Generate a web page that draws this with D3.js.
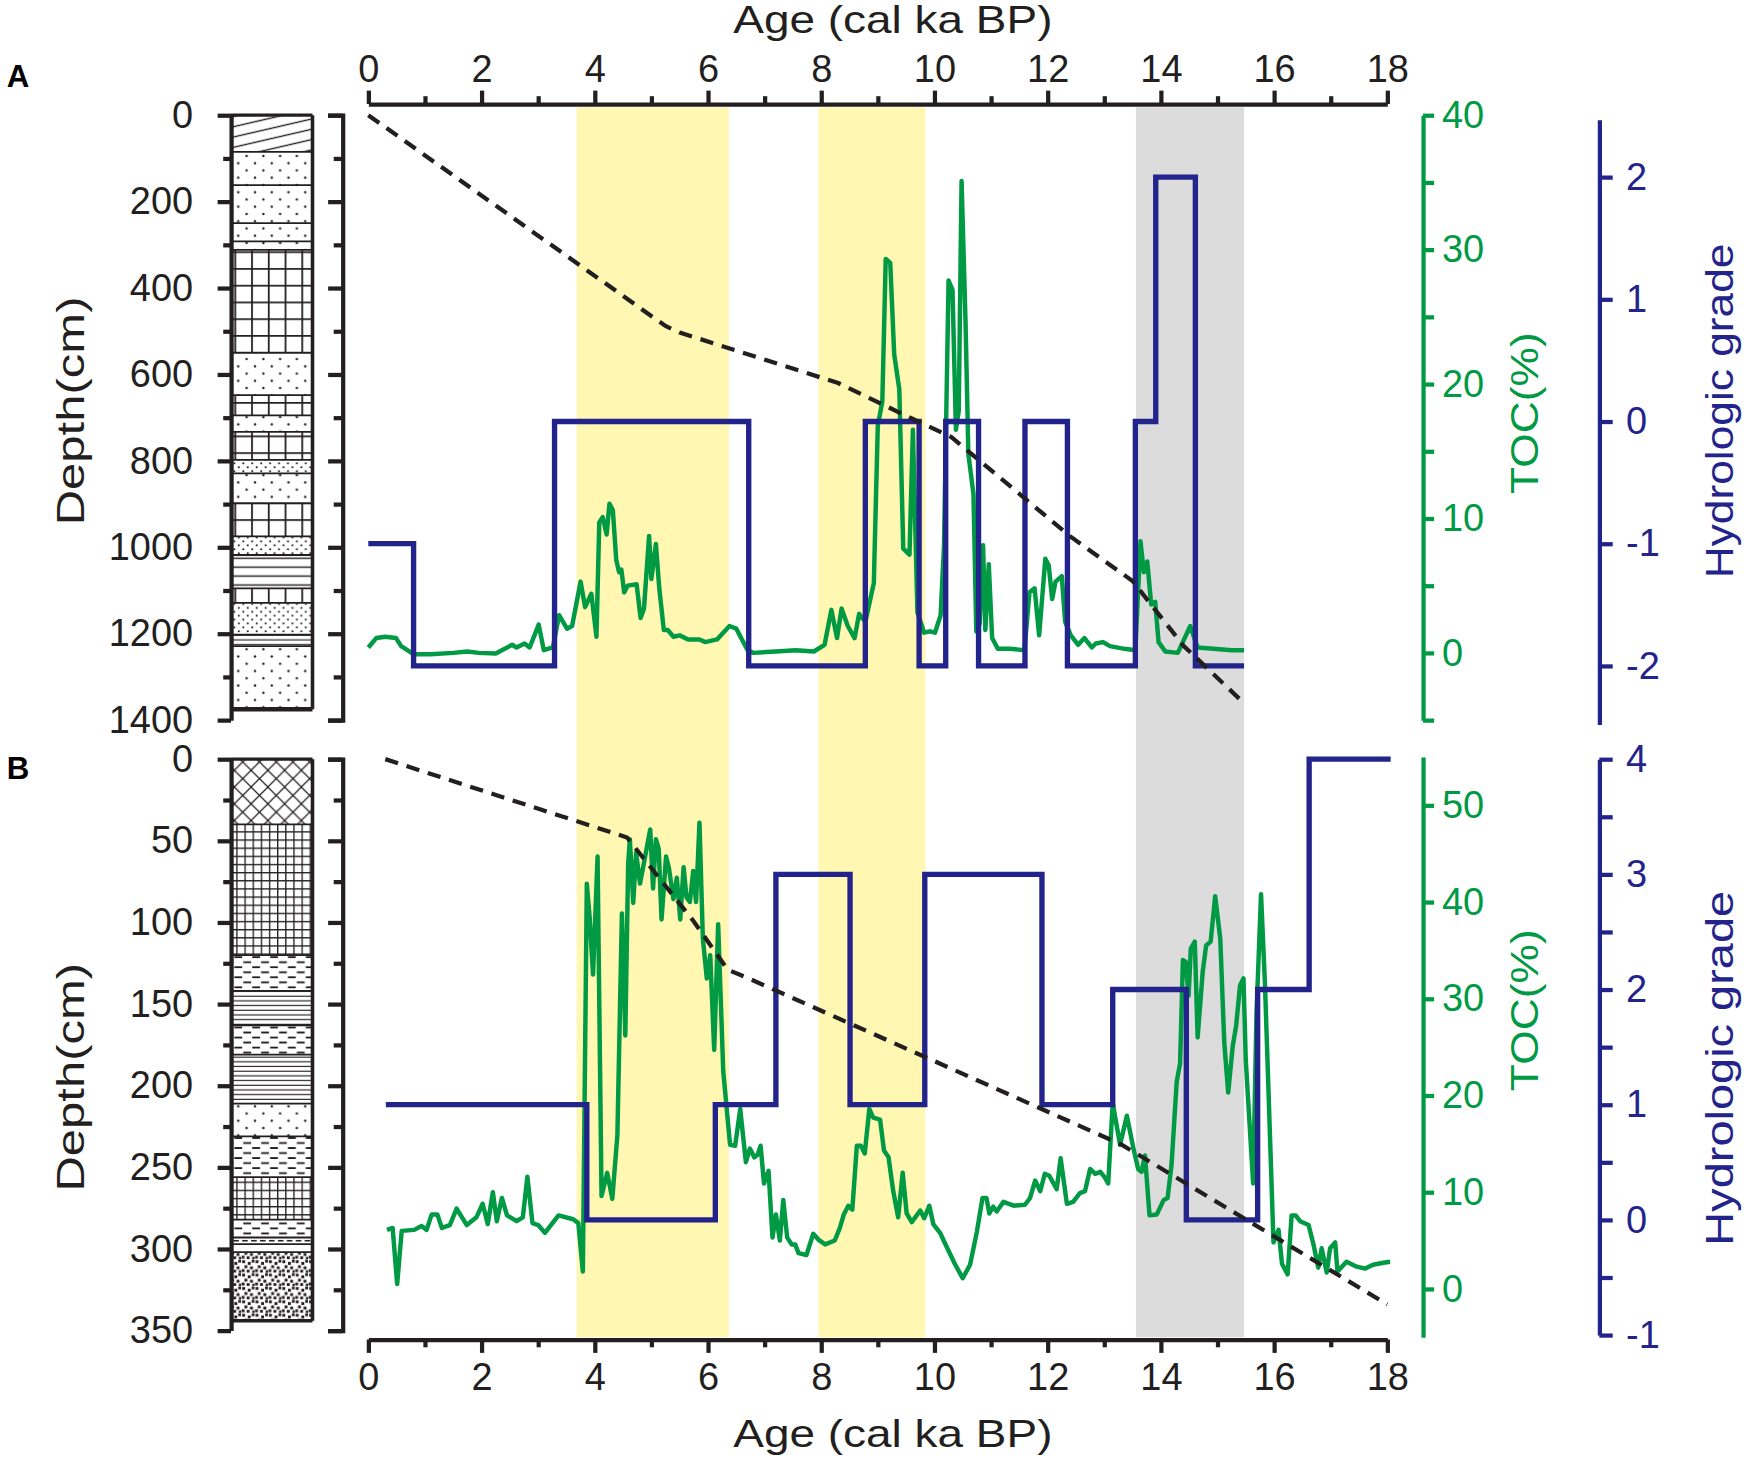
<!DOCTYPE html>
<html>
<head>
<meta charset="utf-8">
<script src="https://cdn.jsdelivr.net/npm/d3@7"></script>
<style>
  body { margin: 0; background: #fff; }
  svg { display: block; font-family: 'Liberation Sans', Arial, sans-serif; }
  .axis path, .axis line { stroke: #231f20; stroke-width: 3.8px; }
  .axis text { font-size: 34px; fill: #231f20; }
  .toc path, .toc line { stroke: #009a44; }
  .toc text { fill: #009a44; }
  .hyd path, .hyd line { stroke: #23238c; }
  .hyd text { fill: #23238c; }
  .title { font-size: 34px; fill: #231f20; }
  .tocline { fill: none; stroke: #009a44; stroke-width: 4px; stroke-linejoin: round; }
  .hydline { fill: none; stroke: #23238c; stroke-width: 4.8px; }
  .agedepth { fill: none; stroke: #231f20; stroke-width: 3.8px; stroke-dasharray: 12 8; }
</style>
</head>
<body>
<svg id="chart" width="1750" height="1458" viewBox="0 0 1568 1306"></svg>
<script>
// ---- data ----
const ageTicks = [0, 2, 4, 6, 8, 10, 12, 14, 16, 18];
const bandStart = [3.68, 7.95, 13.56];
const bandEnd = [6.37, 9.84, 15.47];
const bandKind = ['warm', 'warm', 'cold'];

// panel A
const tocAAge = [0,0.14,0.3,0.49,0.58,0.8,1.1,1.5,1.75,1.95,2.25,2.54,2.62,2.76,2.85,3.01,3.1,3.26,3.37,3.51,3.6,3.75,3.83,3.94,4.03,4.08,4.14,4.21,4.26,4.32,4.38,4.43,4.47,4.52,4.58,4.74,4.81,4.87,4.96,5.0,5.08,5.14,5.22,5.29,5.39,5.5,5.65,5.85,5.95,6.16,6.38,6.5,6.7,6.8,7.2,7.55,7.87,8.06,8.18,8.28,8.36,8.47,8.59,8.67,8.78,8.93,9.0,9.08,9.14,9.22,9.29,9.38,9.45,9.56,9.62,9.7,9.82,9.92,10.01,10.11,10.17,10.25,10.32,10.38,10.43,10.48,10.55,10.6,10.69,10.74,10.8,10.86,10.9,10.96,11.02,11.12,11.34,11.59,11.68,11.77,11.85,11.96,12.02,12.08,12.14,12.25,12.31,12.41,12.54,12.65,12.78,12.85,12.98,13.1,13.36,13.55,13.64,13.7,13.76,13.83,13.9,13.96,14.08,14.3,14.52,14.65,14.93,15.25,15.47];
const tocAVal = [0.4,1.1,1.2,1.1,0.5,-0.1,-0.1,0,0.1,0,-0.05,0.6,0.4,0.7,0.4,2.1,0.2,0.4,2.8,1.8,2.0,5.3,3.4,4.4,1.2,9.7,10.1,8.8,11.1,10.6,6.9,6.0,6.2,4.5,5.0,5.1,2.6,3.3,8.7,5.5,8.1,4.8,1.7,1.7,1.2,1.3,1.0,1.0,0.8,1.0,2.0,1.8,0.2,0,0.1,0.2,0.1,0.6,3.2,1.1,3.3,2.0,1.1,2.9,2.3,5.2,16.9,18.7,29.3,29.0,22.2,19.6,7.75,7.3,16.6,3.0,1.5,1.6,1.5,2.8,8,27.7,27,16.6,18,35.1,24.6,14.8,11.8,1.6,2.2,8.0,1.7,6.6,1.1,0.3,0.3,0.2,4.5,4.8,1.3,7.0,6.5,4.0,5.3,5.7,2.3,1.3,0.6,1.1,0.4,0.7,0.8,0.5,0.3,0.2,8.3,6.0,6.8,3.6,3.8,0.8,0.1,0,2.0,0.4,0.3,0.2,0.2];
const hydAAge = [0, 0.8, 3.29, 6.72, 8.78, 9.73, 10.2, 10.78, 11.6, 12.35, 13.55, 13.91, 14.61, 15.47];
const hydAVal = [-1, -2, 0, -2, 0, -2, 0, -2, 0, -2, 0, 2, -2, -2];
const adAAge = [0, 5.25, 5.5, 8.3, 9.6, 10.3, 12.4, 13.5, 14.4, 15.47];
const adADepth = [0, 488, 503, 620, 702, 745, 975, 1078, 1228, 1361];
const lithA = [[0,85,'slant'],[85,162,'dots'],[162,250,'dots'],[250,292,'dots'],[292,312,'dots'],[312,550,'grid'],[550,648,'dots'],[648,695,'grid'],[695,733,'dots'],[733,798,'grid'],[798,829,'denseDots'],[829,898,'dots'],[898,975,'grid'],[975,1018,'denseDots'],[1018,1095,'hlines'],[1095,1129,'grid'],[1129,1202,'denseDots'],[1202,1229,'hlinesDense'],[1229,1375,'dots']];

// panel B
const tocBAge = [0.33,0.43,0.51,0.59,0.81,0.94,1.03,1.12,1.22,1.3,1.44,1.56,1.74,1.91,2.02,2.11,2.2,2.27,2.36,2.45,2.62,2.73,2.81,2.9,3.0,3.12,3.36,3.62,3.71,3.79,3.86,3.91,3.97,4.05,4.12,4.22,4.31,4.4,4.48,4.54,4.59,4.62,4.68,4.73,4.8,4.89,4.98,5.03,5.08,5.13,5.18,5.26,5.31,5.39,5.45,5.51,5.57,5.62,5.68,5.74,5.79,5.85,5.91,5.98,6.04,6.11,6.18,6.27,6.39,6.48,6.57,6.67,6.74,6.82,6.88,6.93,6.99,7.07,7.14,7.2,7.27,7.33,7.4,7.48,7.54,7.6,7.74,7.86,7.95,8.07,8.24,8.33,8.4,8.48,8.55,8.63,8.7,8.77,8.85,8.92,9.04,9.11,9.19,9.27,9.36,9.44,9.51,9.6,9.75,9.82,9.91,9.98,10.1,10.22,10.36,10.5,10.63,10.75,10.85,10.92,10.97,11.04,11.1,11.22,11.4,11.6,11.69,11.78,11.87,11.95,12.03,12.16,12.23,12.34,12.45,12.57,12.66,12.75,12.84,12.93,13.0,13.07,13.15,13.28,13.4,13.52,13.6,13.66,13.72,13.8,13.93,14.05,14.12,14.19,14.28,14.34,14.39,14.44,14.49,14.53,14.6,14.65,14.74,14.8,14.88,14.96,15.05,15.12,15.19,15.27,15.33,15.4,15.46,15.5,15.63,15.69,15.77,15.84,15.99,16.08,16.14,16.24,16.31,16.38,16.46,16.61,16.7,16.78,16.84,16.93,16.99,17.08,17.12,17.28,17.46,17.61,17.75,17.93,18.05];
const tocBVal = [6.1,6.3,0.5,6.0,6.1,6.5,6.1,7.7,7.7,6.3,6.6,8.3,6.6,7.4,8.8,6.7,10.0,7.0,9.4,7.6,7.0,7.4,11.6,6.8,6.6,5.8,7.6,7.2,6.8,1.8,41.9,38.4,32.5,44.7,9.6,12.0,9.3,15.9,38.8,26.2,43.9,46.5,39.9,45.1,41.9,44.7,47.5,41.4,46.5,45.5,38.2,44.7,43.5,40.3,42.5,38.2,43.6,40.5,40,43.2,40,48.2,36.2,32.1,34.5,24.7,37.7,22.5,14.9,14.8,18.6,13.1,14.5,13.6,13.9,14.8,10.9,12.2,5.3,7.7,5.0,9.2,5.3,4.6,4.6,3.7,3.5,5.7,5.1,4.6,5.0,6.3,7.7,8.6,8.2,14.8,14.8,14.0,18.6,17.7,17.5,14.3,13.6,10.2,7.4,12.0,7.8,6.9,8.1,7.3,8.6,6.7,5.8,4.3,2.6,1.1,2.5,5.9,9.4,9.4,7.8,8.5,8.0,9.0,8.6,8.7,9.4,11.2,10.1,11.9,11.7,10.3,13.5,8.8,9.0,9.9,10.1,12.4,11.9,12.1,11.6,10.9,19.2,14.9,17.9,14.4,12.4,12.1,13.8,7.6,7.7,9.2,9.4,12.9,21.4,23.3,34.0,33.8,30.3,35.2,35.9,26.0,32.8,35.5,35.9,40.6,36.2,25.5,20.3,25.1,27.2,31.4,32.1,23.7,10.9,28.5,40.8,31.4,4.8,6.1,2.6,1.5,7.6,7.6,7.0,6.6,4.5,2.2,4.2,1.7,4.2,4.8,1.8,2.8,2.3,2.1,2.5,2.7,2.8];
const hydBAge = [0.31, 3.86, 6.13, 7.2, 8.51, 9.83, 11.9, 13.15, 14.45, 15.71, 16.62, 18.06];
const hydBVal = [1, 0, 1, 3, 1, 3, 1, 2, 0, 2, 4, 4];
const adBAge = [0.3, 4.57, 5.74, 6.35, 6.7, 13.3, 18.0];
const adBDepth = [0, 48, 99, 129, 134, 236, 334];
const lithB = [[0,40,'cross'],[40,120,'fineGrid'],[120,142,'dashes'],[142,163,'hlinesDense'],[163,181,'dashes'],[181,211,'hlinesDense'],[211,231,'dots'],[231,256,'dashes'],[256,282,'fineGrid'],[282,293,'dashes'],[293,297,'thinDash'],[297,302,'blank'],[302,344,'gravel']];

// ---- drawing ----
const svg = d3.select('#chart');
const ink = '#231f20';
const bandFill = { warm: '#fff7b2', cold: '#dcdcdc' };
const intFmt = d => String(d);

const x = d3.scaleLinear().domain([0, 18]).range([330, 1243]);
const colX = 207, colW = 73;

const depthA = d3.scaleLinear().domain([0, 1400]).range([103, 645]);
const tocA = d3.scaleLinear().domain([-5, 40]).range([645, 103]);
const hydA = d3.scaleLinear().domain([-2.48, 2.47]).range([649, 107]);
const depthB = d3.scaleLinear().domain([0, 350]).range([680, 1192]);
const tocB = d3.scaleLinear().domain([-5, 55]).range([1198, 678]);
const hydB = d3.scaleLinear().domain([-1, 4]).range([1196, 680]);

// lithology patterns
const defs = svg.append('defs');
function pat(id, w, h, draw, rot) {
  const p = defs.append('pattern').attr('id', id).attr('patternUnits', 'userSpaceOnUse')
    .attr('width', w).attr('height', h);
  if (rot) p.attr('patternTransform', 'rotate(' + rot + ')');
  draw(p);
}
pat('dots', 15, 13, p => {
  p.append('circle').attr('cx', 3.5).attr('cy', 3).attr('r', 1.1).attr('fill', ink);
  p.append('circle').attr('cx', 11).attr('cy', 9.5).attr('r', 1.1).attr('fill', ink);
});
pat('denseDots', 8, 7, p => {
  p.append('circle').attr('cx', 2).attr('cy', 2).attr('r', 0.95).attr('fill', ink);
  p.append('circle').attr('cx', 6).attr('cy', 5.5).attr('r', 0.95).attr('fill', ink);
});
pat('grid', 15, 15, p => {
  p.append('path').attr('d', 'M0,0.8H15M0.8,0V15').attr('stroke', ink).attr('stroke-width', 1.6);
});
pat('fineGrid', 7.3, 7.3, p => {
  p.append('path').attr('d', 'M0,0.6H7.3M0.6,0V7.3').attr('stroke', ink).attr('stroke-width', 1.2);
});
pat('hlines', 10, 8, p => {
  p.append('path').attr('d', 'M0,4H10').attr('stroke', ink).attr('stroke-width', 1.3);
});
pat('hlinesDense', 10, 4.2, p => {
  p.append('path').attr('d', 'M0,2H10').attr('stroke', ink).attr('stroke-width', 1);
});
pat('slant', 40, 9, p => {
  p.append('path').attr('d', 'M0,4.5H40').attr('stroke', ink).attr('stroke-width', 1.2);
}, -13);
pat('cross', 15, 15, p => {
  p.append('path').attr('d', 'M0,0L15,15M15,0L0,15').attr('stroke', ink).attr('stroke-width', 1.1);
});
pat('dashes', 16, 9, p => {
  p.append('path').attr('d', 'M2,2.5H9M10,7H16M0,7H1').attr('stroke', ink).attr('stroke-width', 1.6);
});
pat('thinDash', 8, 6, p => {
  p.append('path').attr('d', 'M1,1.5H6').attr('stroke', ink).attr('stroke-width', 1.4);
});
pat('blank', 10, 10, p => {
  p.append('rect').attr('width', 10).attr('height', 10).attr('fill', '#fff');
});
pat('gravel', 12, 12, p => {
  [[1,1],[6,2.5],[9.5,0.5],[3,5.5],[8,6.5],[0.5,9],[5,9.5],[10,10]].forEach(d => {
    p.append('rect').attr('x', d[0]).attr('y', d[1]).attr('width', 2.6).attr('height', 2.6).attr('fill', ink);
  });
});

// shaded intervals
svg.append('g').selectAll('rect').data(bandStart).join('rect')
  .attr('x', d => x(d))
  .attr('width', (d, i) => x(bandEnd[i]) - x(d))
  .attr('y', 96).attr('height', 1198 - 96)
  .attr('fill', (d, i) => bandFill[bandKind[i]]);

function column(layers, depth, maxDepth, thickBottom) {
  const g = svg.append('g');
  g.selectAll('rect.layer').data(layers).join('rect').attr('class', 'layer')
    .attr('x', colX).attr('width', colW)
    .attr('y', d => depth(d[0])).attr('height', d => depth(d[1]) - depth(d[0]))
    .attr('fill', d => 'url(#' + d[2] + ')');
  g.selectAll('line.bound').data(layers.slice(1)).join('line').attr('class', 'bound')
    .attr('x1', colX).attr('x2', colX + colW)
    .attr('y1', d => depth(d[0])).attr('y2', d => depth(d[0]))
    .attr('stroke', ink).attr('stroke-width', 1.6);
  const bottom = layers[layers.length - 1][1];
  g.append('line').attr('x1', colX + colW).attr('x2', colX + colW)
    .attr('y1', depth(0)).attr('y2', depth(bottom)).attr('stroke', ink).attr('stroke-width', 3.2);
  g.append('line').attr('x1', colX).attr('x2', colX + colW)
    .attr('y1', depth(0)).attr('y2', depth(0)).attr('stroke', ink).attr('stroke-width', 3);
  g.append('line').attr('x1', colX).attr('x2', colX + colW)
    .attr('y1', depth(bottom)).attr('y2', depth(bottom)).attr('stroke', ink).attr('stroke-width', thickBottom);

  const major = d3.range(0, maxDepth + 1, maxDepth === 1400 ? 200 : 50);
  const minor = d3.range(0, maxDepth + 1, maxDepth === 1400 ? 100 : 25).filter(v => major.indexOf(v) < 0);
  // axis on the left edge of the column
  svg.append('g').attr('class', 'axis').attr('transform', 'translate(' + colX + ',0)')
    .call(d3.axisLeft(depth).tickValues(major).tickSize(12).tickSizeOuter(0).tickPadding(22).tickFormat(intFmt));
  svg.append('g').attr('class', 'axis').attr('transform', 'translate(' + colX + ',0)')
    .call(d3.axisLeft(depth).tickValues(minor).tickSize(7).tickFormat('')).select('.domain').remove();
  // bracket axis
  svg.append('g').attr('class', 'axis').attr('transform', 'translate(307,0)')
    .call(d3.axisLeft(depth).tickValues(major).tickSize(13).tickSizeOuter(13).tickFormat(''));
  svg.append('g').attr('class', 'axis').attr('transform', 'translate(307,0)')
    .call(d3.axisLeft(depth).tickValues(minor).tickSize(8).tickFormat('')).select('.domain').remove();
}
column(lithA, depthA, 1400, 4);
column(lithB, depthB, 350, 3);

// series
function series(ages, vals, yScale, cls, curve) {
  const pts = ages.map((a, i) => [a, vals[i]]);
  const line = d3.line().x(d => x(d[0])).y(d => yScale(d[1]));
  if (curve) line.curve(curve);
  svg.append('path').datum(pts).attr('class', cls).attr('d', line);
}
series(tocAAge, tocAVal, tocA, 'tocline');
series(tocBAge, tocBVal, tocB, 'tocline');
series(hydAAge, hydAVal, hydA, 'hydline', d3.curveStepAfter);
series(hydBAge, hydBVal, hydB, 'hydline', d3.curveStepAfter);
series(adAAge, adADepth, depthA, 'agedepth');
series(adBAge, adBDepth, depthB, 'agedepth');

// age axes
const ageMinor = d3.range(1, 18, 2);
svg.append('g').attr('class', 'axis').attr('transform', 'translate(0,93)')
  .call(d3.axisTop(x).tickValues(ageTicks).tickSize(12).tickSizeOuter(0).tickPadding(8).tickFormat(intFmt));
svg.append('g').attr('class', 'axis').attr('transform', 'translate(0,93)')
  .call(d3.axisTop(x).tickValues(ageMinor).tickSize(7).tickFormat('')).select('.domain').remove();
svg.append('g').attr('class', 'axis').attr('transform', 'translate(0,1200)')
  .call(d3.axisBottom(x).tickValues(ageTicks).tickSize(12).tickSizeOuter(0).tickPadding(9).tickFormat(intFmt));
svg.append('g').attr('class', 'axis').attr('transform', 'translate(0,1200)')
  .call(d3.axisBottom(x).tickValues(ageMinor).tickSize(7).tickFormat('')).select('.domain').remove();

// TOC axes
svg.append('g').attr('class', 'axis toc').attr('transform', 'translate(1275,0)')
  .call(d3.axisRight(tocA).tickValues(d3.range(-5, 41, 5)).tickSize(10).tickSizeOuter(0).tickPadding(7)
    .tickFormat(d => d >= 0 && d % 10 === 0 ? String(d) : ''));
svg.append('g').attr('class', 'axis toc').attr('transform', 'translate(1275,0)')
  .call(d3.axisRight(tocB).tickValues(d3.range(0, 51, 10)).tickSize(10).tickSizeOuter(0).tickPadding(7).tickFormat(intFmt));

// hydrologic axes
svg.append('g').attr('class', 'axis hyd').attr('transform', 'translate(1433,0)')
  .call(d3.axisRight(hydA).tickValues(d3.range(-2, 3, 1)).tickSize(12).tickSizeOuter(0).tickPadding(12).tickFormat(intFmt));
svg.append('g').attr('class', 'axis hyd').attr('transform', 'translate(1433,0)')
  .call(d3.axisRight(hydB).tickValues(d3.range(-1, 4.01, 0.5)).tickSize(12).tickSizeOuter(0).tickPadding(12)
    .tickFormat(d => Number.isInteger(d) ? String(d) : ''));

// titles
function title(txt, tx, ty, len, rot, color) {
  svg.append('text').attr('class', 'title')
    .attr('transform', 'translate(' + tx + ',' + ty + ')' + (rot ? ' rotate(-90)' : ''))
    .attr('text-anchor', 'middle').attr('textLength', len).attr('lengthAdjust', 'spacingAndGlyphs')
    .style('fill', color || ink).text(txt);
}
title('Age (cal ka BP)', 800, 29, 286, false);
title('Age (cal ka BP)', 800, 1296, 286, false);
title('Depth(cm)', 75, 368, 205, true);
title('Depth(cm)', 75, 965, 205, true);
title('TOC(%)', 1378, 370, 145, true, '#009a44');
title('TOC(%)', 1378, 905, 145, true, '#009a44');
title('Hydrologic grade', 1553, 368, 300, true, '#23238c');
title('Hydrologic grade', 1553, 957, 318, true, '#23238c');

svg.append('text').attr('x', 6).attr('y', 78).style('font-size', '28px').style('font-weight', 'bold').text('A');
svg.append('text').attr('x', 6).attr('y', 698).style('font-size', '28px').style('font-weight', 'bold').text('B');
</script>
</body>
</html>
